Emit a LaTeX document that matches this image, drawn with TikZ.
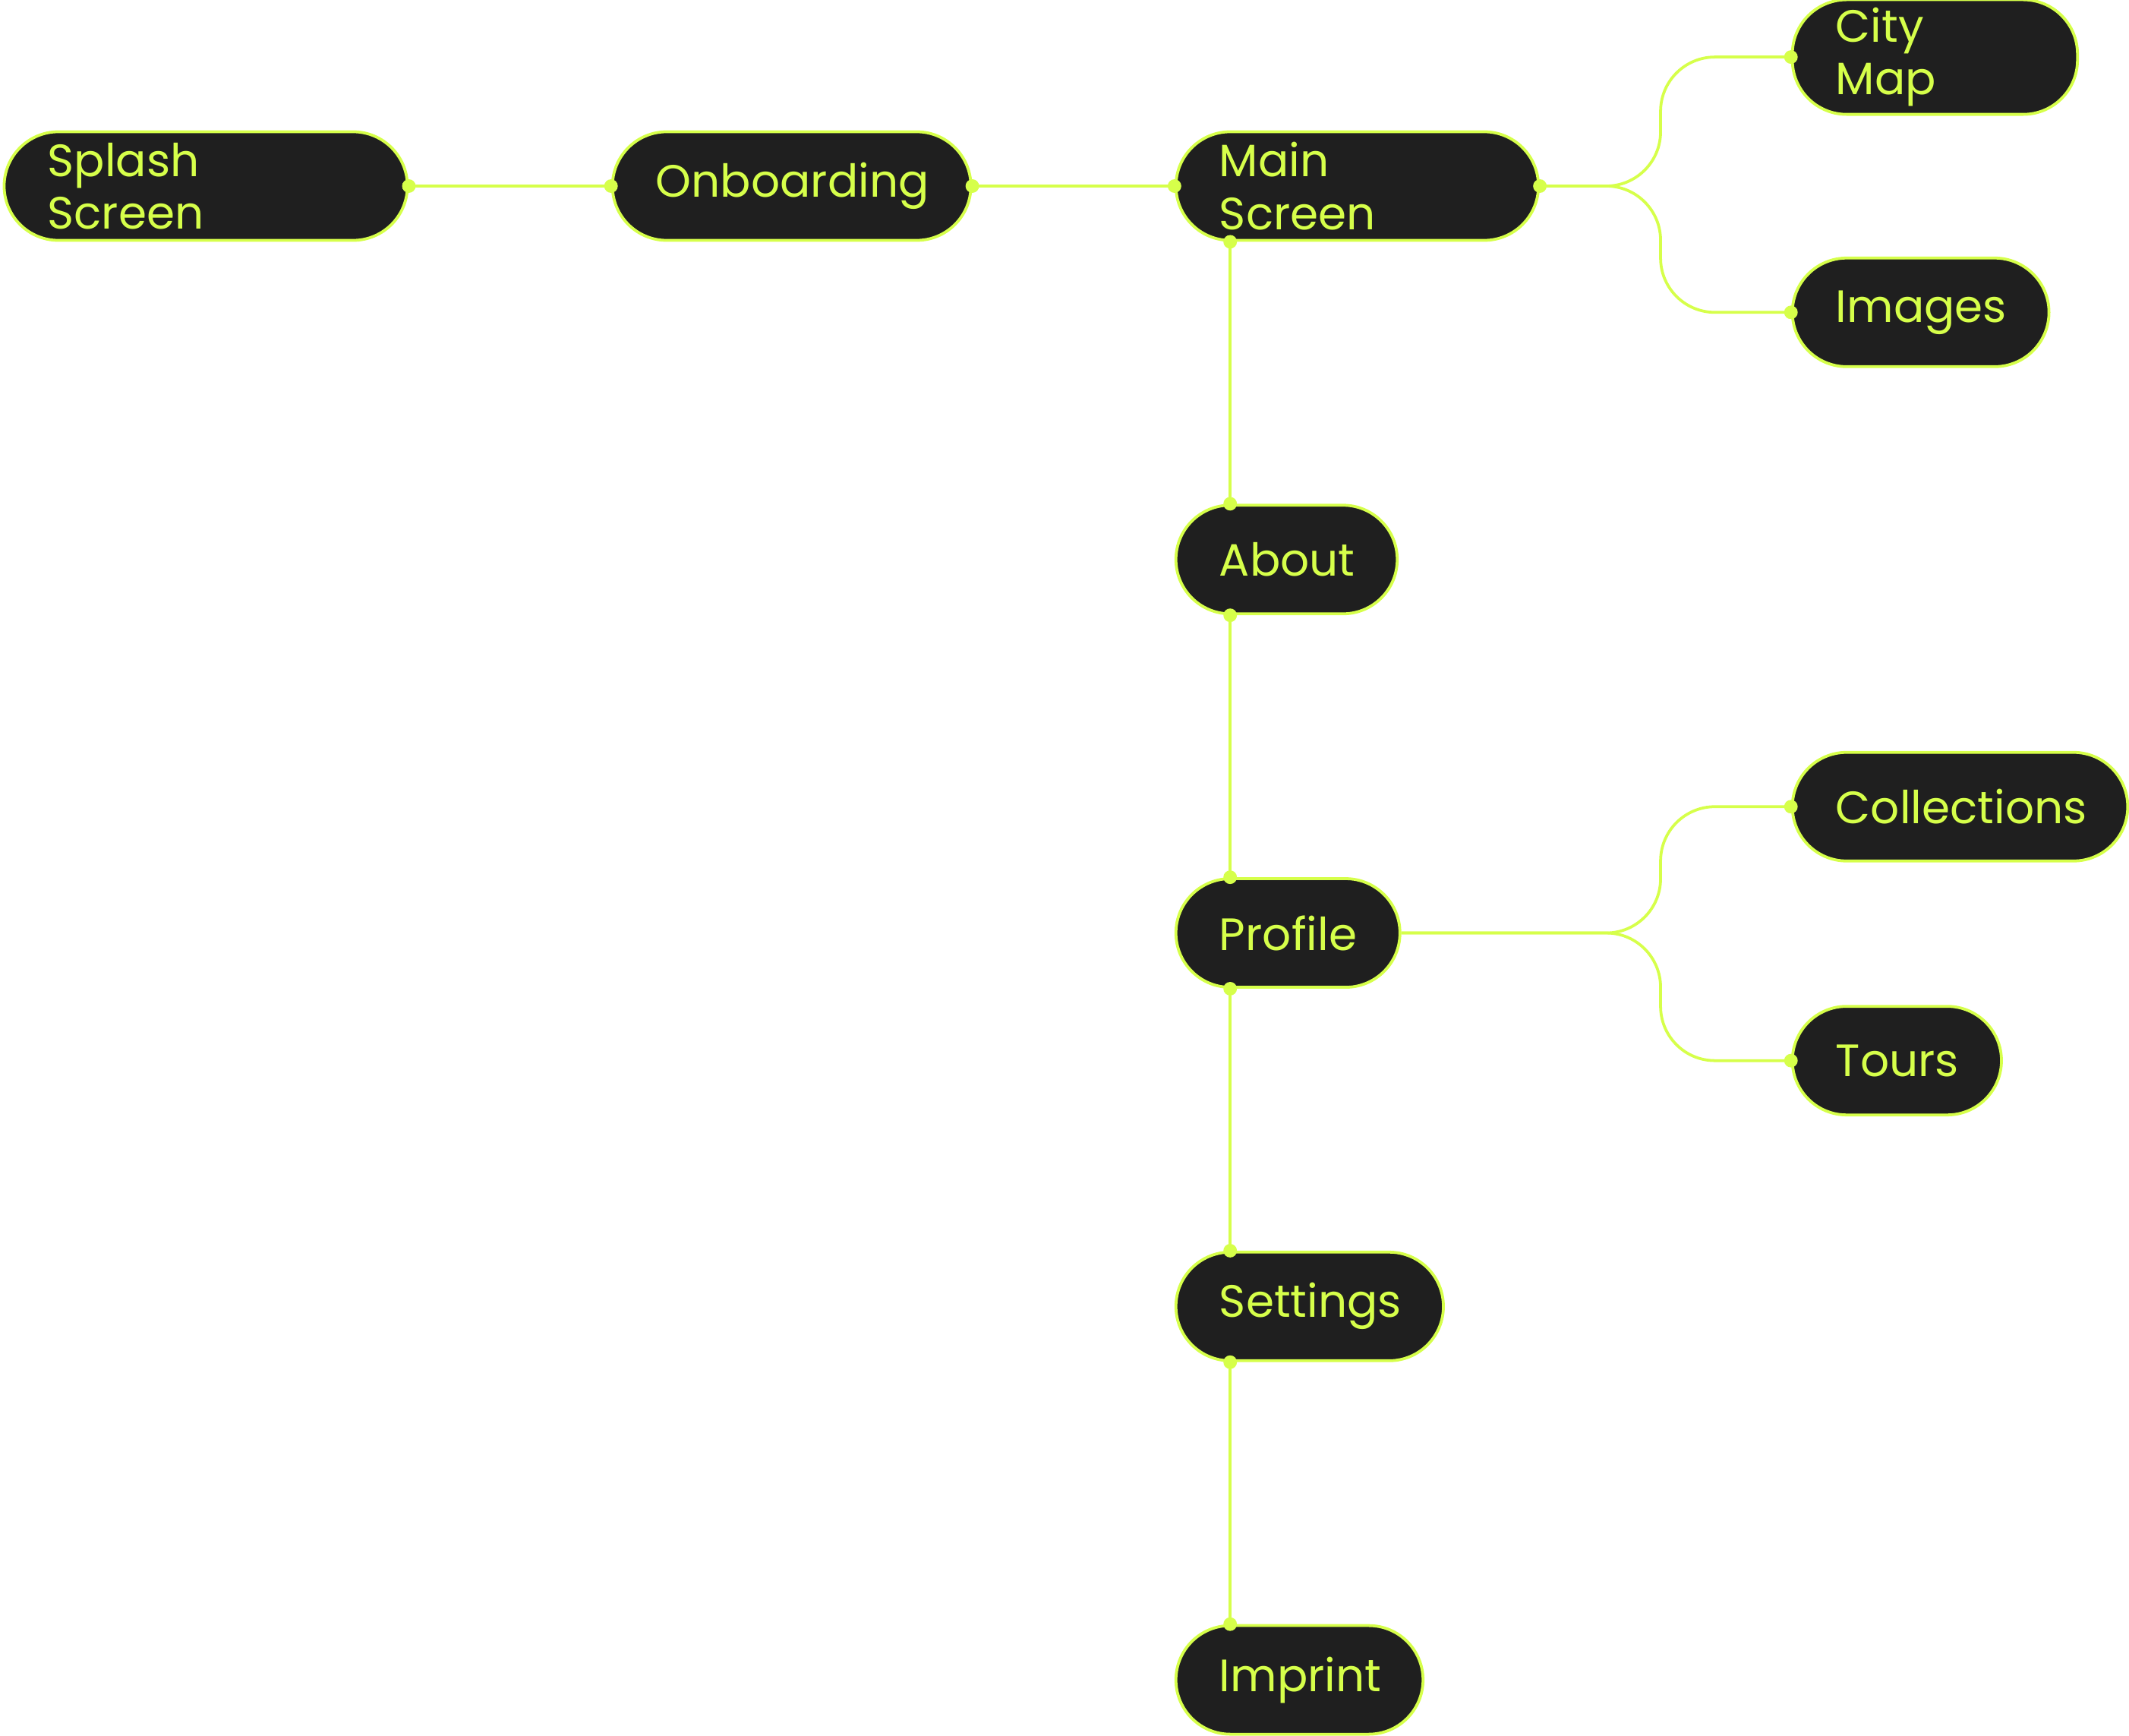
\documentclass[tikz,border=0pt]{standalone}
\usepackage{fontspec}
\setmainfont{Poppins}
\usetikzlibrary{calc}
\definecolor{lime}{HTML}{D6FF4A}
\definecolor{dark}{HTML}{1F1F1F}
\tikzset{
 scr/.style={draw=lime,line width=1.2pt,fill=dark,rounded corners=0.8cm,anchor=west,
   minimum height=1.6cm,inner xsep=0.64cm,align=left,text=lime,font=\fontsize{19}{22}\selectfont},
 link/.style={draw=lime,line width=1.2pt,rounded corners=0.8cm},
 dot/.style={fill=lime,circle,inner sep=0pt,minimum size=0.2cm}
}
\begin{document}
\begin{tikzpicture}[x=0.02cm,y=-0.02cm]
\useasboundingbox (0,0) rectangle (1568,1278);
\newcommand\scrn[5]{\node[scr,text width=#4*0.02cm-1.28cm] (#1) at (#2,#3) {#5};}
\scrn{splash}{2}{137}{297}{Splash Screen}
\scrn{onb}{450}{137}{264}{Onboarding}
\scrn{main}{865}{137}{267}{Main Screen}
\scrn{city}{1319}{42}{210}{City Map}
\scrn{img}{1319}{230}{189}{Images}
\scrn{about}{865}{412}{163}{About}
\scrn{prof}{865}{687}{165}{Profile}
\scrn{coll}{1319}{594}{247}{Collections}
\scrn{tours}{1319}{781}{154}{Tours}
\scrn{sett}{865}{962}{197}{Settings}
\scrn{impr}{865}{1237}{182}{Imprint}
\path[link] (splash.east) -- (onb.west);
\path[link] (onb.east) -- (main.west);
\path[link] (main.east) -| (1223,0 |- city.west) -- (city.west);
\path[link] (main.east) -| (1223,0 |- img.west) -- (img.west);
\path[link] (prof.east) -| (1223,0 |- coll.west) -- (coll.west);
\path[link] (prof.east) -| (1223,0 |- tours.west) -- (tours.west);
\foreach \a/\b in {main/about,about/prof,prof/sett,sett/impr}{
  \coordinate (s\a) at ($(\a.south west)+(41,0)$);
  \coordinate (t\b) at ($(\b.north west)+(41,0)$);
  \path[link] (s\a) -- (t\b);
  \node[dot] at (s\a) {}; \node[dot] at (t\b) {};
}
\foreach \p in {splash.east,onb.west,onb.east,main.west,main.east,city.west,img.west,coll.west,tours.west}
  \node[dot] at (\p) {};
\end{tikzpicture}
\end{document}
